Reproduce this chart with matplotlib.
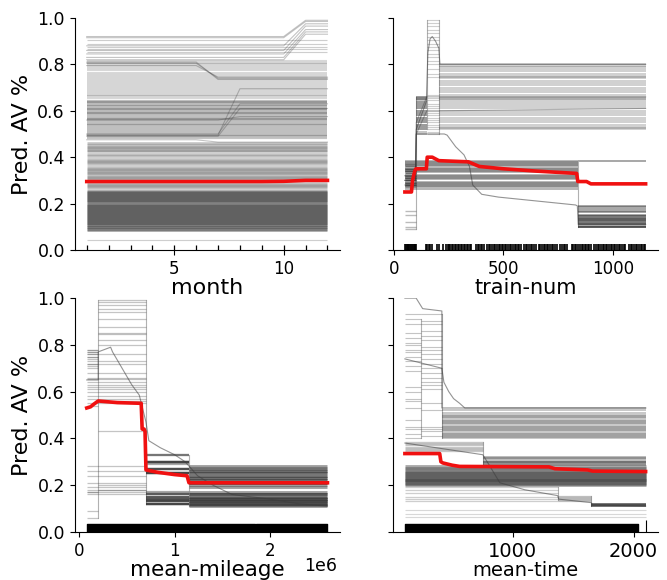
import matplotlib
matplotlib.use("Agg")
import matplotlib.pyplot as plt

# ---------------- month ----------------
month_x = [1, 2, 3, 4, 5, 6, 7, 8, 9, 10, 11, 12]
month_pdp = [0.295, 0.295, 0.295, 0.295, 0.295, 0.295, 0.295, 0.295, 0.295, 0.296, 0.300, 0.300]
month_dark = [0.088, 0.092, 0.097, 0.101, 0.106, 0.110, 0.115, 0.119, 0.124, 0.128, 0.133,
              0.137, 0.142, 0.146, 0.151, 0.155, 0.160, 0.164, 0.169, 0.173, 0.178, 0.182,
              0.187, 0.191, 0.196, 0.200, 0.205, 0.209, 0.214, 0.218, 0.223, 0.227, 0.232,
              0.236, 0.241, 0.245, 0.250, 0.255]
month_mid = [0.268, 0.275, 0.282, 0.289, 0.302, 0.309, 0.316, 0.323, 0.330, 0.337, 0.344,
             0.351, 0.358, 0.371, 0.378, 0.385, 0.392, 0.405, 0.412, 0.425, 0.432, 0.439,
             0.446, 0.453, 0.460]
month_upper = [0.482, 0.490, 0.497, 0.505, 0.513, 0.521, 0.529, 0.537, 0.545, 0.553, 0.560,
               0.565, 0.571, 0.578, 0.584, 0.590, 0.596, 0.602, 0.608, 0.614, 0.620, 0.626,
               0.632, 0.638, 0.644]
month_light = [0.655, 0.662, 0.670, 0.678, 0.686, 0.694, 0.702, 0.710, 0.718, 0.727, 0.737,
               0.745, 0.755, 0.765, 0.775, 0.785, 0.793, 0.800, 0.808, 0.815]
month_top = [0.855, 0.865, 0.875, 0.89, 0.905, 0.045]
month_jump_x = [1, 10, 11, 12]
month_jump_rows = [[0.82, 0.82, 0.93, 0.93], [0.83, 0.83, 0.94, 0.94],
                   [0.845, 0.845, 0.95, 0.95], [0.86, 0.86, 0.965, 0.965],
                   [0.88, 0.88, 0.975, 0.975], [0.915, 0.915, 0.985, 0.985],
                   [0.92, 0.92, 0.99, 0.99]]
month_drop_x = [1, 6, 7, 12]
month_drop_rows = [[0.81, 0.81, 0.735, 0.735], [0.805, 0.805, 0.74, 0.74],
                   [0.795, 0.795, 0.745, 0.745], [0.475, 0.475, 0.465, 0.465]]
month_rise_x = [1, 7, 8, 12]
month_rise_rows = [[0.495, 0.495, 0.695, 0.695], [0.50, 0.50, 0.63, 0.63],
                   [0.56, 0.56, 0.575, 0.575], [0.49, 0.49, 0.61, 0.61]]

# ---------------- train-num ----------------
tn_edges = [50, 100, 150, 205, 1150]
tn_upper_rows = [
    (0.30, 0.66, 0.99, 0.80), (0.33, 0.65, 0.98, 0.795), (0.12, 0.64, 0.965, 0.79),
    (0.28, 0.63, 0.95, 0.78), (0.35, 0.62, 0.935, 0.77), (0.31, 0.61, 0.92, 0.76),
    (0.09, 0.60, 0.905, 0.75), (0.36, 0.59, 0.89, 0.745), (0.29, 0.58, 0.875, 0.74),
    (0.34, 0.57, 0.86, 0.73), (0.27, 0.56, 0.845, 0.72), (0.37, 0.55, 0.83, 0.71),
    (0.17, 0.54, 0.815, 0.70), (0.32, 0.53, 0.80, 0.69), (0.30, 0.52, 0.78, 0.68),
    (0.28, 0.66, 0.76, 0.67), (0.33, 0.65, 0.745, 0.66), (0.35, 0.64, 0.67, 0.655),
    (0.31, 0.655, 0.655, 0.65), (0.29, 0.645, 0.645, 0.645), (0.34, 0.63, 0.63, 0.64),
    (0.10, 0.62, 0.62, 0.63), (0.30, 0.61, 0.61, 0.62), (0.36, 0.60, 0.60, 0.61),
    (0.28, 0.59, 0.59, 0.60), (0.33, 0.58, 0.58, 0.59), (0.31, 0.57, 0.57, 0.58),
    (0.15, 0.56, 0.56, 0.57), (0.35, 0.55, 0.55, 0.56), (0.29, 0.54, 0.54, 0.55),
    (0.32, 0.53, 0.53, 0.54), (0.30, 0.52, 0.52, 0.53), (0.34, 0.51, 0.51, 0.525),
    (0.28, 0.50, 0.50, 0.52),
]
tn_lower_edges = [50, 840, 1150]
tn_lower_rows = [
    (0.385, 0.385), (0.38, 0.19), (0.375, 0.185), (0.37, 0.175), (0.365, 0.17),
    (0.36, 0.165), (0.355, 0.15), (0.35, 0.145), (0.345, 0.14), (0.34, 0.135),
    (0.335, 0.13), (0.325, 0.125), (0.32, 0.12), (0.315, 0.115), (0.31, 0.11),
    (0.305, 0.105), (0.295, 0.10), (0.29, 0.098), (0.285, 0.145), (0.28, 0.14),
    (0.275, 0.13), (0.27, 0.11), (0.265, 0.10),
]
tn_curve_x = [50, 98, 102, 230, 243, 282, 320, 345, 360, 401, 477, 830, 838, 842, 1150]
tn_curve_y = [0.30, 0.30, 0.50, 0.50, 0.495, 0.445, 0.41, 0.36, 0.28, 0.24, 0.228, 0.194, 0.19, 0.11, 0.11]
tn_bump_x = [50, 98, 102, 148, 155, 165, 175, 190, 205, 210, 1150]
tn_bump_y = [0.32, 0.32, 0.52, 0.64, 0.85, 0.91, 0.92, 0.90, 0.87, 0.80, 0.80]
tn_diag_x = [50, 98, 102, 150, 205, 1150]
tn_diag_rows = [[0.30, 0.30, 0.55, 0.66, 0.66, 0.66], [0.28, 0.28, 0.50, 0.60, 0.60, 0.61]]
tn_pdp_x = [50, 80, 85, 95, 100, 148, 152, 175, 205, 340, 390, 500, 650, 835, 840, 880, 900, 1150]
tn_pdp_y = [0.25, 0.25, 0.30, 0.34, 0.35, 0.35, 0.40, 0.40, 0.385, 0.38, 0.36, 0.35, 0.34, 0.33,
            0.295, 0.295, 0.285, 0.285]
tn_rug = [50, 54, 58, 62, 66, 70, 74, 78, 82, 86, 90, 94, 98, 102, 148, 152, 158, 164, 176,
          196, 207, 226, 238, 245, 252, 258, 265, 272, 278, 285, 292, 298, 305, 312, 318,
          326, 333, 340, 347, 354, 375, 382, 390, 397, 404, 412, 426, 434, 441, 449, 456,
          463, 470, 478, 485, 492, 500, 507, 514, 521, 529, 536, 543, 551, 558, 566, 573,
          581, 596, 603, 610, 618, 625, 632, 640, 647, 662, 669, 677, 684, 692, 699, 706,
          714, 721, 729, 736, 743, 760, 768, 775, 782, 790, 812, 820, 827, 834, 842, 849,
          857, 864, 871, 879, 886, 893, 901, 916, 923, 931, 938, 946, 953, 960, 968, 975,
          983, 990, 998, 1005, 1012, 1020, 1027, 1035, 1042, 1049, 1057, 1075, 1083, 1090,
          1098, 1105, 1112, 1120, 1127, 1135, 1142, 1148]

# ---------------- mean-mileage ----------------
mm_edges = [80000, 200000, 700000, 1150000, 2600000]
mm_rows = [
    (0.78, 0.99, 0.15, 0.15), (0.77, 0.985, 0.14, 0.14), (0.76, 0.97, 0.16, 0.16),
    (0.75, 0.955, 0.13, 0.13), (0.74, 0.94, 0.30, 0.27), (0.72, 0.91, 0.12, 0.12),
    (0.71, 0.875, 0.27, 0.25), (0.77, 0.85, 0.25, 0.26), (0.76, 0.845, 0.17, 0.17),
    (0.70, 0.82, 0.33, 0.22), (0.78, 0.80, 0.12, 0.11), (0.75, 0.76, 0.30, 0.24),
    (0.73, 0.73, 0.25, 0.21), (0.72, 0.72, 0.135, 0.13),
    (0.68, 0.68, 0.14, 0.14), (0.66, 0.66, 0.27, 0.23), (0.655, 0.655, 0.12, 0.12),
    (0.64, 0.64, 0.30, 0.20), (0.63, 0.63, 0.16, 0.16), (0.62, 0.62, 0.25, 0.22),
    (0.61, 0.61, 0.13, 0.125), (0.60, 0.60, 0.27, 0.26), (0.58, 0.58, 0.15, 0.15),
    (0.57, 0.57, 0.25, 0.19), (0.55, 0.56, 0.12, 0.115), (0.54, 0.55, 0.30, 0.275),
    (0.17, 0.43, 0.16, 0.16), (0.28, 0.28, 0.13, 0.13), (0.26, 0.26, 0.25, 0.24),
    (0.24, 0.24, 0.14, 0.14), (0.21, 0.21, 0.12, 0.12), (0.19, 0.19, 0.15, 0.145),
    (0.18, 0.18, 0.27, 0.25), (0.17, 0.17, 0.13, 0.13), (0.16, 0.16, 0.30, 0.21),
    (0.09, 0.20, 0.33, 0.28), (0.06, 0.18, 0.29, 0.23),
]
mm_curve_x = [80000, 200000, 200000, 330000, 350000, 450000, 550000, 630000, 700000, 730000,
              850000, 1000000, 1110000, 1240000, 1400000, 1600000, 2000000, 2300000, 2600000]
mm_curve_y = [0.65, 0.65, 0.77, 0.79, 0.77, 0.70, 0.63, 0.585, 0.47, 0.39, 0.36, 0.33, 0.30,
              0.24, 0.20, 0.16, 0.14, 0.12, 0.11]
mm_pdp_x = [80000, 120000, 150000, 200000, 400000, 650000, 660000, 680000, 690000, 700000,
            820000, 1000000, 1130000, 1150000, 2600000]
mm_pdp_y = [0.53, 0.535, 0.545, 0.56, 0.553, 0.55, 0.44, 0.44, 0.43, 0.265, 0.255, 0.245,
            0.24, 0.21, 0.21]
mm_rug_spans = [(80000, 1840000), (1850000, 2600000)]

# ---------------- mean-time ----------------
mt_upper_edges = [107, 240, 413, 2100]
mt_upper_rows = [
    (0.93, 0.93, 0.52), (0.91, 0.90, 0.51), (0.89, 0.89, 0.50), (0.85, 0.86, 0.495),
    (0.83, 0.84, 0.49), (0.81, 0.82, 0.485), (0.80, 0.79, 0.48), (0.78, 0.78, 0.475),
    (0.77, 0.76, 0.47), (0.75, 0.74, 0.465), (0.73, 0.72, 0.46), (0.71, 0.70, 0.455),
    (0.69, 0.68, 0.45), (0.62, 0.66, 0.445), (0.60, 0.61, 0.44), (0.56, 0.55, 0.435),
    (0.48, 0.52, 0.43), (0.45, 0.45, 0.425), (0.44, 0.44, 0.42), (0.42, 0.43, 0.415),
    (0.40, 0.41, 0.41), (0.57, 0.64, 0.405), (0.53, 0.63, 0.40),
]
mt_mid_edges = [107, 752, 2100]
mt_mid_rows = [(0.385, 0.32), (0.38, 0.315), (0.375, 0.31), (0.37, 0.305), (0.365, 0.30),
               (0.36, 0.30), (0.355, 0.295), (0.35, 0.29), (0.345, 0.285)]
mt_dark = [0.200, 0.204, 0.208, 0.212, 0.216, 0.220, 0.224, 0.228, 0.232, 0.236, 0.240,
           0.244, 0.248, 0.252, 0.256, 0.262, 0.268, 0.274, 0.280]
mt_low_edges = [107, 1372, 1650, 2100]
mt_low_rows = [(0.19, 0.155, 0.12), (0.18, 0.15, 0.115), (0.165, 0.145, 0.11),
               (0.15, 0.14, 0.115), (0.14, 0.135, 0.12), (0.13, 0.13, 0.11)]
mt_faint = [0.064, 0.075, 0.093]
mt_top_x = [107, 200, 254, 413, 413, 2100]
mt_top_y = [1.0, 1.0, 0.955, 0.945, 0.53, 0.53]
mt_stair_x = [107, 413, 430, 470, 510, 560, 603, 2100]
mt_stair_y = [0.74, 0.70, 0.64, 0.60, 0.57, 0.55, 0.53, 0.53]
mt_desc_x = [107, 752, 800, 893, 1100, 1372, 1380, 1650, 1660, 2100]
mt_desc_y = [0.38, 0.33, 0.29, 0.21, 0.18, 0.155, 0.14, 0.125, 0.115, 0.11]
mt_pdp_x = [107, 395, 405, 420, 500, 560, 1300, 1350, 1620, 1660, 2100]
mt_pdp_y = [0.335, 0.335, 0.30, 0.295, 0.285, 0.28, 0.278, 0.27, 0.265, 0.26, 0.258]
mt_rug_spans = [(107, 2041)]
mt_rug_single = [2099]

ICE_COLOR = "#3c3c3c"
PDP_COLOR = "#f01010"


def draw_rows(ax, edges, rows, lws, alphas):
    # flat pieces of each ICE line, one piece per segment
    for i in range(len(edges) - 1):
        for row in rows:
            ax.plot([edges[i], edges[i + 1]], [row[i], row[i]],
                    color=ICE_COLOR, lw=lws[i], alpha=alphas[i], solid_capstyle="butt")
    # one thin connector where the lines jump
    for i in range(1, len(edges) - 1):
        jumps = [v for row in rows if row[i - 1] != row[i] for v in (row[i - 1], row[i])]
        if jumps:
            ax.plot([edges[i], edges[i]], [min(jumps), max(jumps)],
                    color=ICE_COLOR, lw=0.8, alpha=0.4)


def draw_poly(ax, x, rows, lw=0.8, alpha=0.35):
    for row in rows:
        ax.plot(x, row, color=ICE_COLOR, lw=lw, alpha=alpha)


def draw_flat(ax, x0, x1, levels, lw=0.8, alpha=0.35):
    for lv in levels:
        ax.plot([x0, x1], [lv, lv], color=ICE_COLOR, lw=lw, alpha=alpha, solid_capstyle="butt")


def style(ax, xlabel, xticks, show_y, tick_size=12, label_size=15):
    ax.spines["top"].set_visible(False)
    ax.spines["right"].set_visible(False)
    ax.set_ylim(0, 1)
    ax.set_yticks([0, 0.2, 0.4, 0.6, 0.8, 1.0])
    ax.set_xticks(xticks)
    ax.tick_params(axis="x", labelsize=tick_size)
    ax.tick_params(axis="y", labelsize=12.5)
    ax.set_xlabel(xlabel, fontsize=label_size, labelpad=0)
    if show_y:
        ax.set_ylabel("Pred. AV %", fontsize=16)
    else:
        ax.tick_params(axis="y", labelleft=False)


fig = plt.figure(figsize=(6.67, 5.8), dpi=100)
ax1 = fig.add_axes([0.112, 0.569, 0.397, 0.400])
ax2 = fig.add_axes([0.589, 0.569, 0.397, 0.400])
ax3 = fig.add_axes([0.112, 0.083, 0.397, 0.403])
ax4 = fig.add_axes([0.589, 0.083, 0.397, 0.403])

# month
draw_flat(ax1, month_x[0], month_x[-1], month_dark, lw=2.0, alpha=0.45)
draw_flat(ax1, month_x[0], month_x[-1], month_mid, lw=1.8, alpha=0.32)
draw_flat(ax1, month_x[0], month_x[-1], month_upper, lw=1.6, alpha=0.3)
draw_flat(ax1, month_x[0], month_x[-1], month_light, lw=1.5, alpha=0.2)
draw_flat(ax1, month_x[0], month_x[-1], month_top, lw=0.8, alpha=0.25)
draw_poly(ax1, month_jump_x, month_jump_rows, alpha=0.3)
draw_poly(ax1, month_drop_x, month_drop_rows, alpha=0.3)
draw_poly(ax1, month_rise_x, month_rise_rows, alpha=0.3)
ax1.plot(month_x, month_pdp, color=PDP_COLOR, lw=2.6)
ax1.vlines(month_x, 0, 0.022, color="black", lw=0.9)
style(ax1, "month", [5, 10], True, label_size=16)

# train-num
draw_rows(ax2, tn_edges, tn_upper_rows, [1.0, 1.2, 0.8, 1.1], [0.35, 0.35, 0.25, 0.3])
draw_rows(ax2, tn_lower_edges, tn_lower_rows, [1.3, 1.4], [0.4, 0.45])
draw_poly(ax2, tn_diag_x, tn_diag_rows, alpha=0.4)
ax2.plot(tn_curve_x, tn_curve_y, color=ICE_COLOR, lw=0.8, alpha=0.55)
ax2.plot(tn_bump_x, tn_bump_y, color=ICE_COLOR, lw=0.8, alpha=0.55)
ax2.plot(tn_pdp_x, tn_pdp_y, color=PDP_COLOR, lw=2.6)
ax2.vlines(tn_rug, 0, 0.025, color="black", lw=1.2)
style(ax2, "train-num", [0, 500, 1000], False)

# mean-mileage
draw_rows(ax3, mm_edges, mm_rows, [0.9, 0.9, 1.6, 2.0], [0.3, 0.3, 0.45, 0.5])
ax3.plot(mm_curve_x, mm_curve_y, color=ICE_COLOR, lw=0.8, alpha=0.55)
ax3.plot(mm_pdp_x, mm_pdp_y, color=PDP_COLOR, lw=2.6)
ax3.broken_barh([(a, b - a) for a, b in mm_rug_spans], (0, 0.035), color="black")
style(ax3, "mean-mileage", [0, 1000000, 2000000], True, label_size=15.5)
ax3.xaxis.get_offset_text().set_visible(False)
ax3.text(0.99, -0.108, "1e6", transform=ax3.transAxes, ha="right", va="top", fontsize=12.5)

# mean-time
draw_rows(ax4, mt_upper_edges, mt_upper_rows, [0.8, 0.8, 1.3], [0.3, 0.3, 0.3])
draw_rows(ax4, mt_mid_edges, mt_mid_rows, [1.0, 1.4], [0.25, 0.35])
draw_flat(ax4, mt_pdp_x[0], mt_pdp_x[-1], mt_dark, lw=2.0, alpha=0.45)
draw_rows(ax4, mt_low_edges, mt_low_rows, [0.9, 0.9, 1.4], [0.25, 0.3, 0.45])
draw_flat(ax4, mt_pdp_x[0], mt_pdp_x[-1], mt_faint, lw=0.8, alpha=0.2)
ax4.plot(mt_top_x, mt_top_y, color=ICE_COLOR, lw=0.8, alpha=0.55)
ax4.plot(mt_stair_x, mt_stair_y, color=ICE_COLOR, lw=0.8, alpha=0.55)
ax4.plot(mt_desc_x, mt_desc_y, color=ICE_COLOR, lw=0.8, alpha=0.55)
ax4.plot(mt_pdp_x, mt_pdp_y, color=PDP_COLOR, lw=2.6)
ax4.broken_barh([(a, b - a) for a, b in mt_rug_spans], (0, 0.035), color="black")
ax4.vlines(mt_rug_single, 0, 0.05, color="black", lw=0.8)
style(ax4, "mean-time", [1000, 2000], False, tick_size=14, label_size=14)

fig.savefig("out.png", dpi=100)
